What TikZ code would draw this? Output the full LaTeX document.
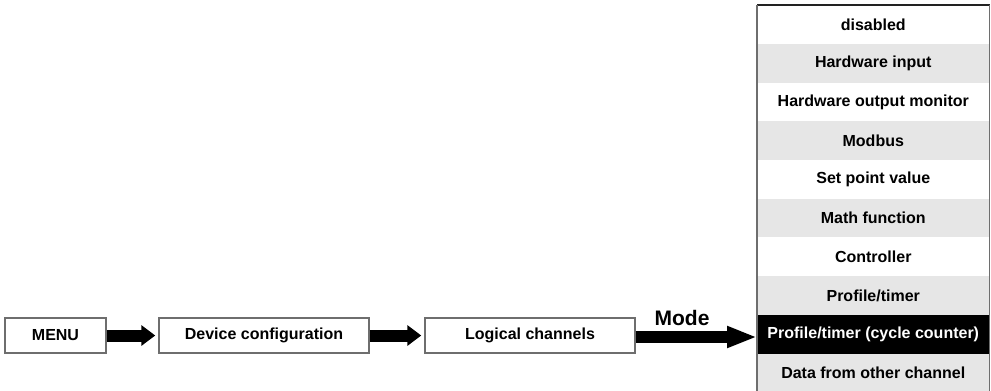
\documentclass[tikz,border=0pt]{standalone}
\usepackage{fontspec}
\setmainfont{Liberation Sans}
\usetikzlibrary{arrows.meta}
\definecolor{rowgray}{HTML}{E6E6E6}
\definecolor{boxline}{HTML}{6E6E6E}
\definecolor{topline}{HTML}{222222}
\tikzset{
  menubox/.style={draw=boxline, line width=1.1pt, fill=white, inner sep=0pt,
    minimum height=26.25pt, font=\fontsize{12}{14}\selectfont\bfseries},
  rowbox/.style={inner sep=0pt, anchor=north west, minimum width=174pt,
    minimum height=29.03pt, font=\fontsize{12}{14}\selectfont\bfseries},
  whiterow/.style={rowbox, fill=white},
  grayrow/.style={rowbox, fill=rowgray},
  blackrow/.style={rowbox, fill=black, text=white},
  blockarrow/.style={line width=9pt, -{Triangle[length=10.5pt, width=15pt]}},
  modearrow/.style={line width=9pt, -{Triangle[length=22.5pt, width=15pt]}},
}
\begin{document}
\begin{tikzpicture}[x=0.75pt, y=-0.75pt]
\useasboundingbox (0,0) rectangle (991,390);
% left boxes
\node[menubox, minimum width=75.75pt] (menu) at (55.5,335.5) {MENU};
\node[menubox, minimum width=157.5pt] (dev) at (264,335.5) {Device configuration};
\node[menubox, minimum width=157.5pt] (log) at (530,335.5) {Logical channels};
% list rows
\node[whiterow] (r0) at (757,5) {disabled};
\node[grayrow] (r1) at (757,43.7) {Hardware input};
\node[whiterow] (r2) at (757,82.4) {Hardware output monitor};
\node[grayrow] (r3) at (757,121.1) {Modbus};
\node[whiterow] (r4) at (757,159.8) {Set point value};
\node[grayrow] (r5) at (757,198.5) {Math function};
\node[whiterow] (r6) at (757,237.2) {Controller};
\node[grayrow] (r7) at (757,275.9) {Profile/timer};
\node[blackrow] (r8) at (757,314.6) {Profile/timer (cycle counter)};
\node[grayrow] (r9) at (757,353.3) {Data from other channel};
% list border
\draw[topline, line width=1.5pt] (r0.north west) -- (r0.north east);
\draw[boxline, line width=1.3pt] (r0.north west) -- (r9.south west);
\draw[boxline, line width=1.3pt] (r0.north east) -- (r9.south east);
% arrows
\draw[blockarrow, shorten >=2.25pt] (menu.east) -- (dev.west);
\draw[blockarrow, shorten >=2.25pt] (dev.east) -- (log.west);
\coordinate (mtip) at (r8.west |- 0,337);
\draw[modearrow] (log.east |- mtip) -- (mtip);
\node[anchor=base, inner sep=0pt, font=\fontsize{15.75}{18}\selectfont\bfseries] (mode) at (682,325) {Mode};
\end{tikzpicture}
\end{document}
